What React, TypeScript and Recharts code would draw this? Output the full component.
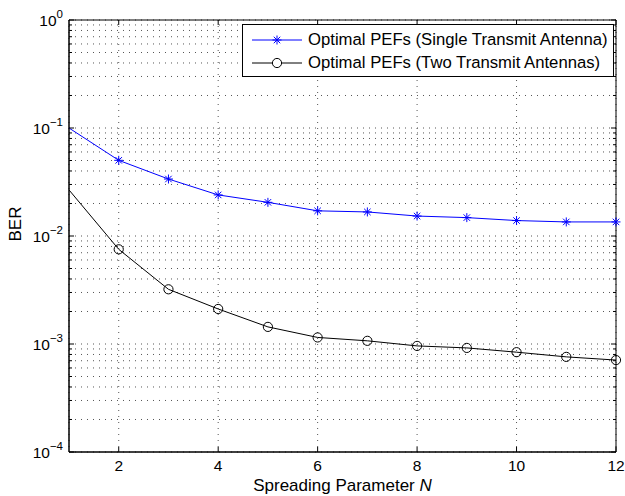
import React from "react"
import {
  LineChart,
  Line,
  XAxis,
  YAxis,
  CartesianGrid,
  Legend,
  Label,
  ReferenceArea,
} from "recharts"

// spreading parameter N
const nValues = [1, 2, 3, 4, 5, 6, 7, 8, 9, 10, 11, 12]
// BER, optimal PEFs, single transmit antenna
const singleTx = [0.1, 0.0502, 0.0337, 0.024, 0.0205, 0.0171, 0.0167, 0.0153, 0.0148, 0.0139, 0.0135, 0.0135]
// BER, optimal PEFs, two transmit antennas
const twoTx = [0.0267, 0.00753, 0.00321, 0.00211, 0.00144, 0.00115, 0.00107, 0.00096, 0.00092, 0.00084, 0.00076, 0.00071]

const xTicks = [2, 4, 6, 8, 10, 12]
const decades = [-4, -3, -2, -1, 0]
const yTicks = decades.flatMap((e) =>
  e === 0 ? [1] : [1, 2, 3, 4, 5, 6, 7, 8, 9].map((k) => Number((k * 10 ** e).toPrecision(3)))
)

const FONT = "'Liberation Sans', Arial, Helvetica, sans-serif"
const BLUE = "#0000ff"

const data = nValues.map((n, i) => ({ n, single: singleTx[i], two: twoTx[i] }))

function Star({ cx, cy, color }: { cx: number; cy: number; color: string }) {
  const r = 4.5
  const d = r * 0.72
  return (
    <g stroke={color} strokeWidth={1}>
      <line x1={cx - r} y1={cy} x2={cx + r} y2={cy} />
      <line x1={cx} y1={cy - r} x2={cx} y2={cy + r} />
      <line x1={cx - d} y1={cy - d} x2={cx + d} y2={cy + d} />
      <line x1={cx - d} y1={cy + d} x2={cx + d} y2={cy - d} />
    </g>
  )
}

const YTick = (props: any) => {
  const { x, y, payload } = props
  const v = payload.value
  const exp = Math.round(Math.log10(v))
  const major = Math.abs(v / 10 ** exp - 1) < 1e-6
  const axisX = x + 6
  return (
    <g>
      <line x1={axisX} y1={y} x2={axisX + (major ? 5 : 3)} y2={y} stroke="#000" />
      <line x1={616} y1={y} x2={616 - (major ? 5 : 3)} y2={y} stroke="#000" />
      {major && (
        <text x={x} y={y} dy="0.36em" textAnchor="end" fontSize={15.5} fontFamily={FONT} fill="#000">
          10
          <tspan dy={-8} fontSize={11.5}>
            {exp === 0 ? "0" : "\u2212" + Math.abs(exp)}
          </tspan>
        </text>
      )}
    </g>
  )
}

const XTick = (props: any) => {
  const { x, y, payload } = props
  const axisY = y - 8
  return (
    <g>
      <line x1={x} y1={axisY} x2={x} y2={axisY - 5} stroke="#000" />
      <line x1={x} y1={20} x2={x} y2={25} stroke="#000" />
      <text x={x} y={y} dy="0.71em" textAnchor="middle" fontSize={15.5} fontFamily={FONT} fill="#000">
        {payload.value}
      </text>
    </g>
  )
}

const XLabel = (props: any) => {
  const { x, y, width } = props.viewBox
  return (
    <text x={x + width / 2} y={y + 39} textAnchor="middle" fontSize={17} fontFamily={FONT} fill="#000">
      Spreading Parameter{"  "}
      <tspan fontStyle="italic">N</tspan>
    </text>
  )
}

const YLabel = () => (
  <text
    x={15.5}
    y={224}
    textAnchor="middle"
    dominantBaseline="central"
    transform="rotate(-90 15.5 224)"
    fontSize={17}
    fontFamily={FONT}
    fill="#000"
  >
    BER
  </text>
)

const LegendBox = () => {
  const rows = [
    { label: "Optimal PEFs (Single Transmit Antenna)", color: BLUE, marker: "star" },
    { label: "Optimal PEFs (Two Transmit Antennas)", color: "#000", marker: "circle" },
  ]
  return (
    <div
      style={{
        boxSizing: "border-box",
        width: 372,
        height: 53,
        border: "1px solid #000",
        background: "#fff",
        paddingTop: 4,
        fontFamily: FONT,
        fontSize: 16.7,
      }}
    >
      {rows.map((r) => (
        <div key={r.label} style={{ display: "flex", alignItems: "center", height: 22.5, whiteSpace: "nowrap" }}>
          <svg width={65} height={22} style={{ flex: "none" }}>
            <line x1={9} y1={11} x2={59} y2={11} stroke={r.color} />
            {r.marker === "star" ? (
              <Star cx={34} cy={11} color={r.color} />
            ) : (
              <circle cx={34} cy={11} r={4.6} fill="#fff" stroke={r.color} />
            )}
          </svg>
          <span style={{ color: "#000" }}>{r.label}</span>
        </div>
      ))}
    </div>
  )
}

export default function App() {
  return (
    <div style={{ position: "absolute", left: 0, top: 0, background: "#fff" }}>
      <LineChart width={625} height={496} data={data} margin={{ top: 20, right: 9, left: 0, bottom: 0 }}>
        <CartesianGrid stroke="#555" strokeDasharray="1 5" />
        <XAxis
          dataKey="n"
          type="number"
          domain={[1, 12]}
          ticks={xTicks}
          height={44}
          tickSize={0}
          tickMargin={8}
          tick={<XTick />}
          axisLine={{ stroke: "#000" }}
        >
          <Label content={<XLabel />} />
        </XAxis>
        <YAxis
          type="number"
          scale="log"
          domain={[1e-4, 1]}
          allowDataOverflow
          ticks={yTicks}
          interval={0}
          width={69}
          tickSize={0}
          tickMargin={6}
          tick={<YTick />}
          axisLine={{ stroke: "#000" }}
        >
          <Label content={<YLabel />} />
        </YAxis>
        <ReferenceArea x1={1} x2={12} y1={1e-4} y2={1} fill="none" stroke="#000" strokeWidth={1} />
        <Line
          dataKey="single"
          stroke={BLUE}
          strokeWidth={1}
          isAnimationActive={false}
          dot={(p: any) =>
            p.index === 0 ? <g key={p.index} /> : <Star key={p.index} cx={p.cx} cy={p.cy} color={BLUE} />
          }
        />
        <Line
          dataKey="two"
          stroke="#000"
          strokeWidth={1}
          isAnimationActive={false}
          dot={(p: any) =>
            p.index === 0 ? (
              <g key={p.index} />
            ) : (
              <circle key={p.index} cx={p.cx} cy={p.cy} r={4.6} fill="none" stroke="#000" />
            )
          }
        />
        <Legend
          layout="horizontal"
          verticalAlign="middle"
          align="center"
          content={<LegendBox />}
          wrapperStyle={{ position: "absolute", top: 24, left: 242, width: 372, height: 53, bottom: "auto" }}
        />
      </LineChart>
    </div>
  )
}
